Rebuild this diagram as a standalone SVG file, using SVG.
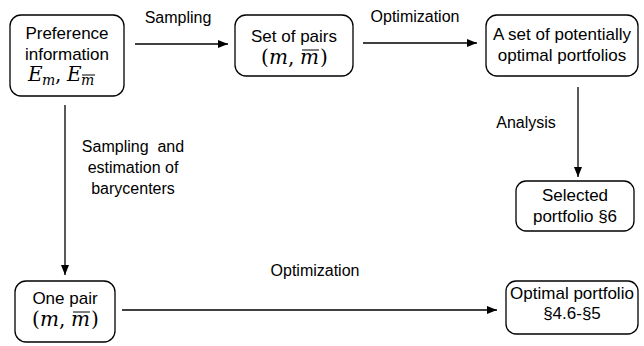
<svg xmlns="http://www.w3.org/2000/svg" width="644" height="346" viewBox="0 0 644 346">
<defs>
<marker id="ah" viewBox="0 0 10 8" refX="10" refY="4" markerWidth="10" markerHeight="8" markerUnits="userSpaceOnUse" orient="auto">
<path d="M0,0 L10,4 L0,8 Z" fill="#000"/>
</marker>
<style>
.box{fill:#fff;stroke:#000;stroke-width:1.3}
.t{font-family:"Liberation Sans",Arial,sans-serif;font-size:17px;fill:#000;text-anchor:middle}
.m{font-family:"DejaVu Serif","Liberation Serif",serif;font-style:italic;font-size:20px;fill:#000;text-anchor:start}
.r{font-style:normal}
.sub{font-size:14px}
.ov{stroke:#000;stroke-width:1}
.lbl{font-family:"Liberation Sans",Arial,sans-serif;font-size:16px;fill:#000;text-anchor:middle}
.c{fill:none;stroke:#000;stroke-width:1.3;marker-end:url(#ah)}
</style>
</defs>
<rect width="644" height="346" fill="#fff"/>
<g id="n1">
<rect class="box" x="10" y="15" width="114" height="81" rx="11"/>
<text class="t" x="67" y="39">Preference</text>
<text class="t" x="67" y="60">information</text>
<text class="m" y="81"><tspan x="28">E</tspan><tspan class="sub" x="42" y="85">m</tspan><tspan class="r" x="55" y="81">,</tspan><tspan x="67">E</tspan><tspan class="sub" x="81" y="85">m</tspan></text>
<line class="ov" x1="82" y1="75" x2="95" y2="75"/>
</g>
<g id="n2">
<rect class="box" x="235" y="15" width="118" height="61" rx="11"/>
<text class="t" x="294" y="42">Set of pairs</text>
<text class="m" y="64"><tspan class="r" x="261">(</tspan><tspan x="269">m</tspan><tspan class="r" x="288">,</tspan><tspan x="300">m</tspan><tspan class="r" x="320">)</tspan></text>
<line class="ov" x1="302" y1="50" x2="319" y2="50"/>
</g>
<g id="n3">
<rect class="box" x="486" y="15" width="152" height="61" rx="11"/>
<text class="t" x="562" y="40">A set of potentially</text>
<text class="t" x="562" y="61">optimal portfolios</text>
</g>
<g id="n4">
<rect class="box" x="516" y="181" width="118" height="50" rx="10"/>
<text class="t" x="575" y="201">Selected</text>
<text class="t" x="575" y="222">portfolio §6</text>
</g>
<g id="n5">
<rect class="box" x="15" y="281" width="100" height="61" rx="11"/>
<text class="t" x="65" y="304">One pair</text>
<text class="m" y="326"><tspan class="r" x="32">(</tspan><tspan x="40">m</tspan><tspan class="r" x="59">,</tspan><tspan x="71">m</tspan><tspan class="r" x="91">)</tspan></text>
<line class="ov" x1="73" y1="312" x2="90" y2="312"/>
</g>
<g id="n6">
<rect class="box" x="506" y="281" width="132" height="53" rx="10"/>
<text class="t" x="572" y="299">Optimal portfolio</text>
<text class="t" x="572" y="319">§4.6-§5</text>
</g>
<g id="connectors">
<path class="c" d="M135,44 H228"/>
<path class="c" d="M363,43 H477"/>
<path class="c" d="M578,87 V177"/>
<path class="c" d="M65,105 V275"/>
<path class="c" d="M122,310 H497"/>
<text class="lbl" x="178" y="23">Sampling</text>
<text class="lbl" x="415" y="22">Optimization</text>
<text class="lbl" x="526" y="128">Analysis</text>
<text class="lbl" x="133" y="152" xml:space="preserve">Sampling  and</text>
<text class="lbl" x="133" y="173">estimation of</text>
<text class="lbl" x="133" y="194">barycenters</text>
<text class="lbl" x="315" y="276">Optimization</text>
</g>
</svg>
